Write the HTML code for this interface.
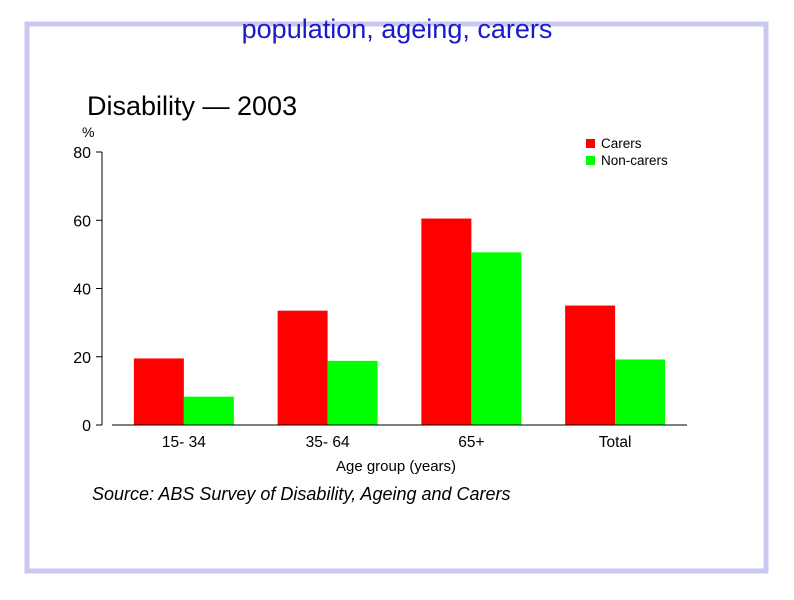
<!DOCTYPE html>
<html><head><meta charset="utf-8"><style>
body{margin:0;background:#fff;width:794px;height:595px;overflow:hidden;font-family:"Liberation Sans",sans-serif}
</style></head><body>
<svg width="794" height="595" xmlns="http://www.w3.org/2000/svg">
<rect x="27" y="24" width="739" height="547" fill="none" stroke="#c8c8f0" stroke-width="5"/>
<text x="397" y="38" text-anchor="middle" font-size="27" fill="#1a1ac8">population, ageing, carers</text>
<text x="87" y="115" font-size="27" fill="#000">Disability — 2003</text>
<text x="82" y="137" font-size="14" fill="#000">%</text>
<g id="chart"></g>
<text x="396" y="471" text-anchor="middle" font-size="15">Age group (years)</text>
<text x="92" y="500" font-size="18" font-style="italic">Source: ABS Survey of Disability, Ageing and Carers</text>
<rect x="586" y="139" width="9" height="9" fill="#ff0000"/>
<text x="601" y="148" font-size="13.5">Carers</text>
<rect x="586" y="156" width="9" height="9" fill="#00ff00"/>
<text x="601" y="165" font-size="13.5">Non-carers</text>
</svg>
<script>
const categories=["15- 34","35- 64","65+","Total"];
const carers=[19.5,33.5,60.5,35];
const nonCarers=[8.3,18.8,50.6,19.2];
const yTicks=[0,20,40,60,80];
const NS="http://www.w3.org/2000/svg";
const g=document.getElementById('chart');
const y0=425,yTop=152,yMax=80;
function y(v){return y0-(y0-yTop)*v/yMax;}
const xStart=112,xEnd=687,bw=50;
function xc(i){return xStart+(xEnd-xStart)*(i+0.5)/categories.length;}
function mk(t,a){const e=document.createElementNS(NS,t);for(const k in a)e.setAttribute(k,a[k]);g.appendChild(e);return e;}
const ax=mk('line',{x1:102,y1:y(80),x2:102,y2:y0,stroke:'#000','stroke-width':1});


yTicks.forEach(v=>{
 const t=mk('line',{x1:96,y1:y(v),x2:102,y2:y(v),stroke:'#000'});
 
 
 const l=mk('text',{x:91,y:y(v)+6,'text-anchor':'end','font-size':16});
 l.textContent=v;
 
 
});
categories.forEach((c,i)=>{
 const cx=xc(i);
 const r=mk('rect',{x:cx-bw,y:y(carers[i]),width:bw,height:y0-y(carers[i]),fill:'#ff0000'});
 
 
 const gr=mk('rect',{x:cx,y:y(nonCarers[i]),width:bw,height:y0-y(nonCarers[i]),fill:'#00ff00'});
 
 
 const l=mk('text',{x:cx,y:447,'text-anchor':'middle','font-size':15.5});
 l.textContent=c;
 
 
});
const xa=mk('line',{x1:xStart,y1:y0,x2:xEnd,y2:y0,stroke:'#000'});


</script>
</body></html>
